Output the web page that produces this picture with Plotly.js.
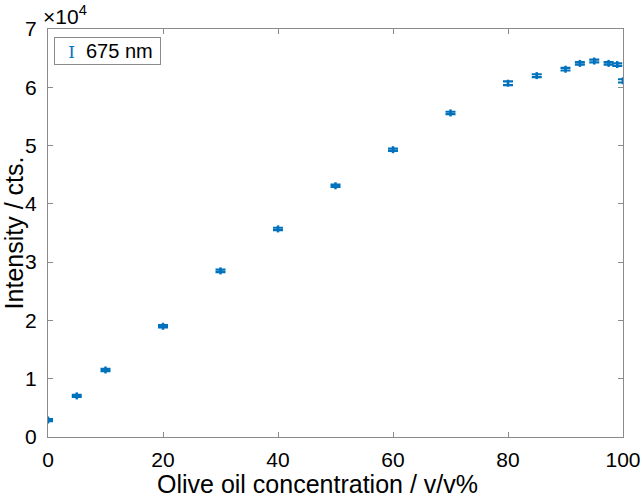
<!DOCTYPE html>
<html>
<head>
<meta charset="utf-8">
<script src="https://cdn.plot.ly/plotly-3.0.1.min.js"></script>
<style>
  html, body { margin: 0; padding: 0; background: #fff; }
  #chart { width: 642px; height: 499px; }
</style>
</head>
<body>
<div id="chart"></div>
<script>
// Olive oil concentration (v/v%) and emission intensity at 675 nm
const concentration = [0, 5, 10, 20, 30, 40, 50, 60, 70, 80, 85, 90, 92.5, 95, 97.5, 99, 100];
const intensity = [2900, 7050, 11500, 19000, 28500, 35700, 43100, 49300, 55600, 60700, 62000, 63100, 64100, 64500, 64100, 63900, 61100];
const intensityErr = [180, 180, 200, 180, 200, 200, 200, 200, 200, 320, 240, 220, 220, 240, 220, 220, 280];
const seriesName = '675 nm';
const xTitle = 'Olive oil concentration / v/v%';
const yTitle = 'Intensity / cts.';
const yTickValues = [0, 10000, 20000, 30000, 40000, 50000, 60000, 70000];
const yTickLabels = ['0', '1', '2', '3', '4', '5', '6', '7'];
const xTickValues = [0, 20, 40, 60, 80, 100];

const blue = '#0072BD';
const axisGray = '#8a8a8a';
const font = 'Liberation Sans, Arial, sans-serif';

const trace = {
  x: concentration,
  y: intensity,
  type: 'scatter',
  mode: 'markers',
  name: seriesName,
  marker: { symbol: 'line-ns-open', size: 5, color: blue, line: { color: blue, width: 2.5 } },
  error_y: { type: 'data', array: intensityErr, visible: true, color: blue, thickness: 2.2, width: 5 },
  showlegend: false
};

// Legend box: an error-bar glyph followed by the series name
const legendText = '\u00a0\u00a0<span style="font-family:DejaVu Serif;color:' + blue + ';font-size:17px">I</span>\u00a0\u00a0' + seriesName + '\u00a0';

const layout = {
  width: 642,
  height: 499,
  margin: { l: 48, r: 19, t: 29, b: 62 },
  paper_bgcolor: '#fff',
  plot_bgcolor: '#fff',
  font: { family: font, color: '#000', size: 20 },
  showlegend: false,
  xaxis: {
    range: [0, 100],
    tickvals: xTickValues,
    ticks: 'inside', ticklen: 5, tickcolor: axisGray, tickwidth: 1,
    showline: true, linecolor: axisGray, linewidth: 1, mirror: 'ticks',
    showgrid: false, zeroline: false,
    ticklabelstandoff: 4,
    tickfont: { family: font, size: 21, color: '#000' }
  },
  yaxis: {
    range: [0, 70000],
    tickvals: yTickValues,
    ticktext: yTickLabels,
    ticks: 'inside', ticklen: 5, tickcolor: axisGray, tickwidth: 1,
    showline: true, linecolor: axisGray, linewidth: 1, mirror: 'ticks',
    showgrid: false, zeroline: false,
    ticklabelstandoff: 6,
    tickfont: { family: font, size: 21, color: '#000' },
    title: { text: yTitle, font: { family: font, size: 25, color: '#000' }, standoff: 1 }
  },
  annotations: [
    {
      // x-axis label, sitting slightly left of the axis centre
      text: xTitle,
      xref: 'paper', yref: 'paper', x: 0.468, y: -0.152,
      xanchor: 'center', yanchor: 'bottom',
      showarrow: false, borderpad: 0,
      font: { family: font, size: 25, color: '#000' }
    },
    {
      text: '×10<sup>4</sup>',
      xref: 'paper', yref: 'paper', x: -0.012, y: 1.0,
      xanchor: 'left', yanchor: 'bottom', yshift: -1,
      showarrow: false,
      font: { family: font, size: 21, color: '#000' }
    },
    {
      text: legendText,
      xref: 'paper', yref: 'paper', x: 0.0104, y: 0.98,
      xanchor: 'left', yanchor: 'top',
      showarrow: false, align: 'left',
      bgcolor: '#fff', bordercolor: axisGray, borderwidth: 1, borderpad: 2,
      font: { family: font, size: 20, color: '#000' }
    }
  ]
};

Plotly.newPlot('chart', [trace], layout, { displayModeBar: false, staticPlot: true });
</script>
</body>
</html>
